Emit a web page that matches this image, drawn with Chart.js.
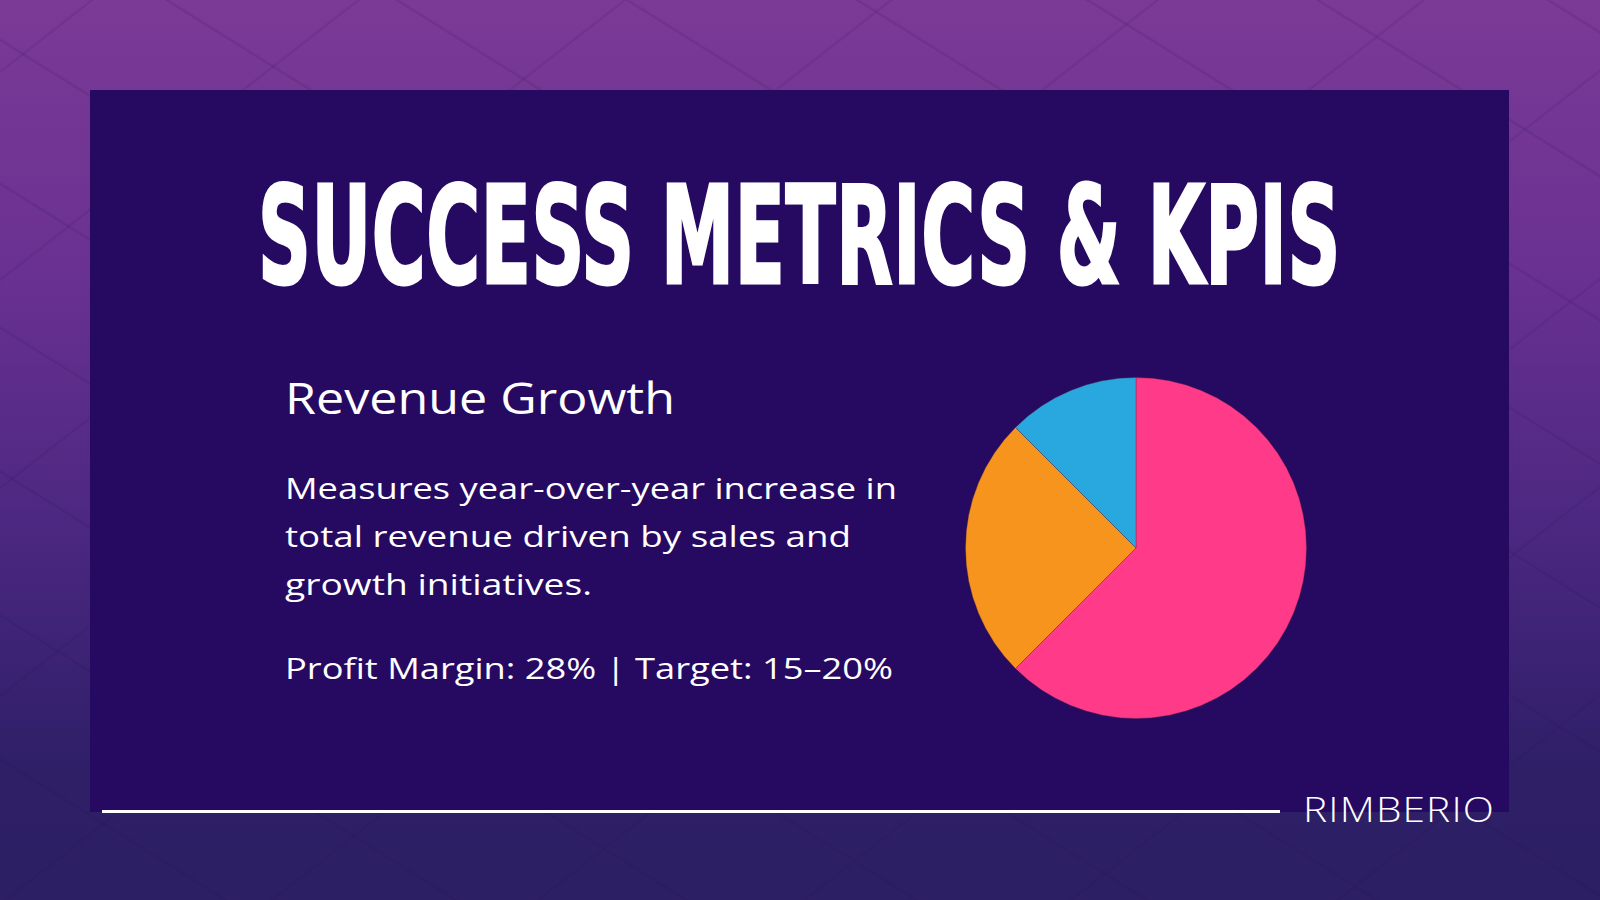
<!DOCTYPE html>
<html>
<head>
<meta charset="utf-8">
<script src="https://cdn.jsdelivr.net/npm/chart.js@4"></script>
<style>
  html, body { margin: 0; padding: 0; }
  body {
    width: 1600px; height: 900px; overflow: hidden; position: relative;
    background:
      repeating-linear-gradient(32deg, rgba(40,10,80,0) 0px, rgba(40,10,80,0) 118px, rgba(40,10,80,0.16) 119px, rgba(40,10,80,0) 122px),
      repeating-linear-gradient(-38deg, rgba(40,10,80,0) 0px, rgba(40,10,80,0) 160px, rgba(40,10,80,0.14) 161px, rgba(40,10,80,0) 164px),
      linear-gradient(180deg, #7b3a96 0%, #6a3192 30%, #4a2780 60%, #2f1f68 85%, #2c1f63 100%);
    font-family: "Open Sans", "Noto Sans", sans-serif;
    color: #fff;
  }
  #card {
    position: absolute; left: 90px; top: 90px; width: 1419px; height: 722px;
    background: #260a62;
  }
  .txt { position: absolute; white-space: nowrap; transform-origin: 0 0; line-height: 1; }
  #title {
    font-family: "Liberation Sans Narrow", "DejaVu Sans Condensed", "Liberation Sans", sans-serif;
    font-weight: 700; -webkit-text-stroke: 3px #fff; letter-spacing: 1px;
  }
  #sub { font-weight: 400; }
  .body { font-weight: 400; }
  #brand { font-weight: 300; letter-spacing: 1px; }
  #rule { position: absolute; left: 102px; top: 810px; width: 1178px; height: 3px; background: #fff; }
  #pieBox { position: absolute; left: 965px; top: 377px; width: 342px; height: 342px; }
</style>
</head>
<body>
<div id="card"></div>
<div id="title" class="txt" data-x="258" data-top="185" data-cap="99" data-w="1083">SUCCESS METRICS &amp; KPIS</div>
<div id="sub" class="txt" data-x="285" data-top="383" data-cap="32" data-w="390">Revenue Growth</div>
<div class="txt body" data-x="285" data-top="479" data-cap="21" data-w="612">Measures year-over-year increase in</div>
<div class="txt body" data-x="285" data-top="527" data-cap="21" data-w="566">total revenue driven by sales and</div>
<div class="txt body" data-x="285" data-top="575" data-cap="21" data-w="307">growth initiatives.</div>
<div class="txt body" data-x="285" data-top="659" data-cap="21" data-w="608">Profit Margin: 28% | Target: 15–20%</div>
<div id="brand" class="txt" data-x="1303" data-top="797" data-cap="25" data-w="192">RIMBERIO</div>
<div id="rule"></div>
<div id="pieBox"><canvas id="pie"></canvas></div>

<script>
// slice shares (clockwise from 12 o'clock)
const sliceLabels = ['Revenue Growth', 'Profit Margin', 'Other'];
const sliceValues = [62.5, 25, 12.5];
const sliceColors = ['#ff3a88', '#f7941e', '#29a8e0'];

const measureCtx = document.createElement('canvas').getContext('2d');

// size and place each text block so cap top, left edge and width match the slide
function fitText(el) {
  const x = +el.dataset.x, top = +el.dataset.top, w = +el.dataset.w, cap = +el.dataset.cap;
  const cs = getComputedStyle(el);
  measureCtx.font = cs.fontWeight + ' 100px ' + cs.fontFamily;
  const m = measureCtx.measureText('H');
  const capRatio = m.actualBoundingBoxAscent / 100;
  const asc = m.fontBoundingBoxAscent / 100, desc = m.fontBoundingBoxDescent / 100;
  const fs = cap / capRatio;
  el.style.fontSize = fs + 'px';
  // line-height 1: baseline sits at top + asc*fs - (asc+desc-1)*fs/2
  const baseFromTop = asc * fs - (asc + desc - 1) * fs / 2;
  el.style.left = x + 'px';
  el.style.top = (top + cap - baseFromTop) + 'px';
  const sx = w / el.getBoundingClientRect().width;
  el.style.transform = 'scaleX(' + sx + ')';
}

document.fonts.ready.then(() => {
  document.querySelectorAll('.txt').forEach(fitText);
});

const ctx = document.getElementById('pie').getContext('2d');
const chart = new Chart(ctx, {
  type: 'pie',
  data: {
    labels: sliceLabels,
    datasets: [{
      data: sliceValues,
      backgroundColor: sliceColors,
      borderColor: 'rgba(90,40,60,0.35)',
      borderWidth: 1
    }]
  },
  options: {
    responsive: true,
    maintainAspectRatio: false,
    animation: false,
    layout: { padding: 0 },
    plugins: {
      legend: { display: false },
      tooltip: { enabled: false }
    }
  }
}); // pie chart
</script>
</body>
</html>
